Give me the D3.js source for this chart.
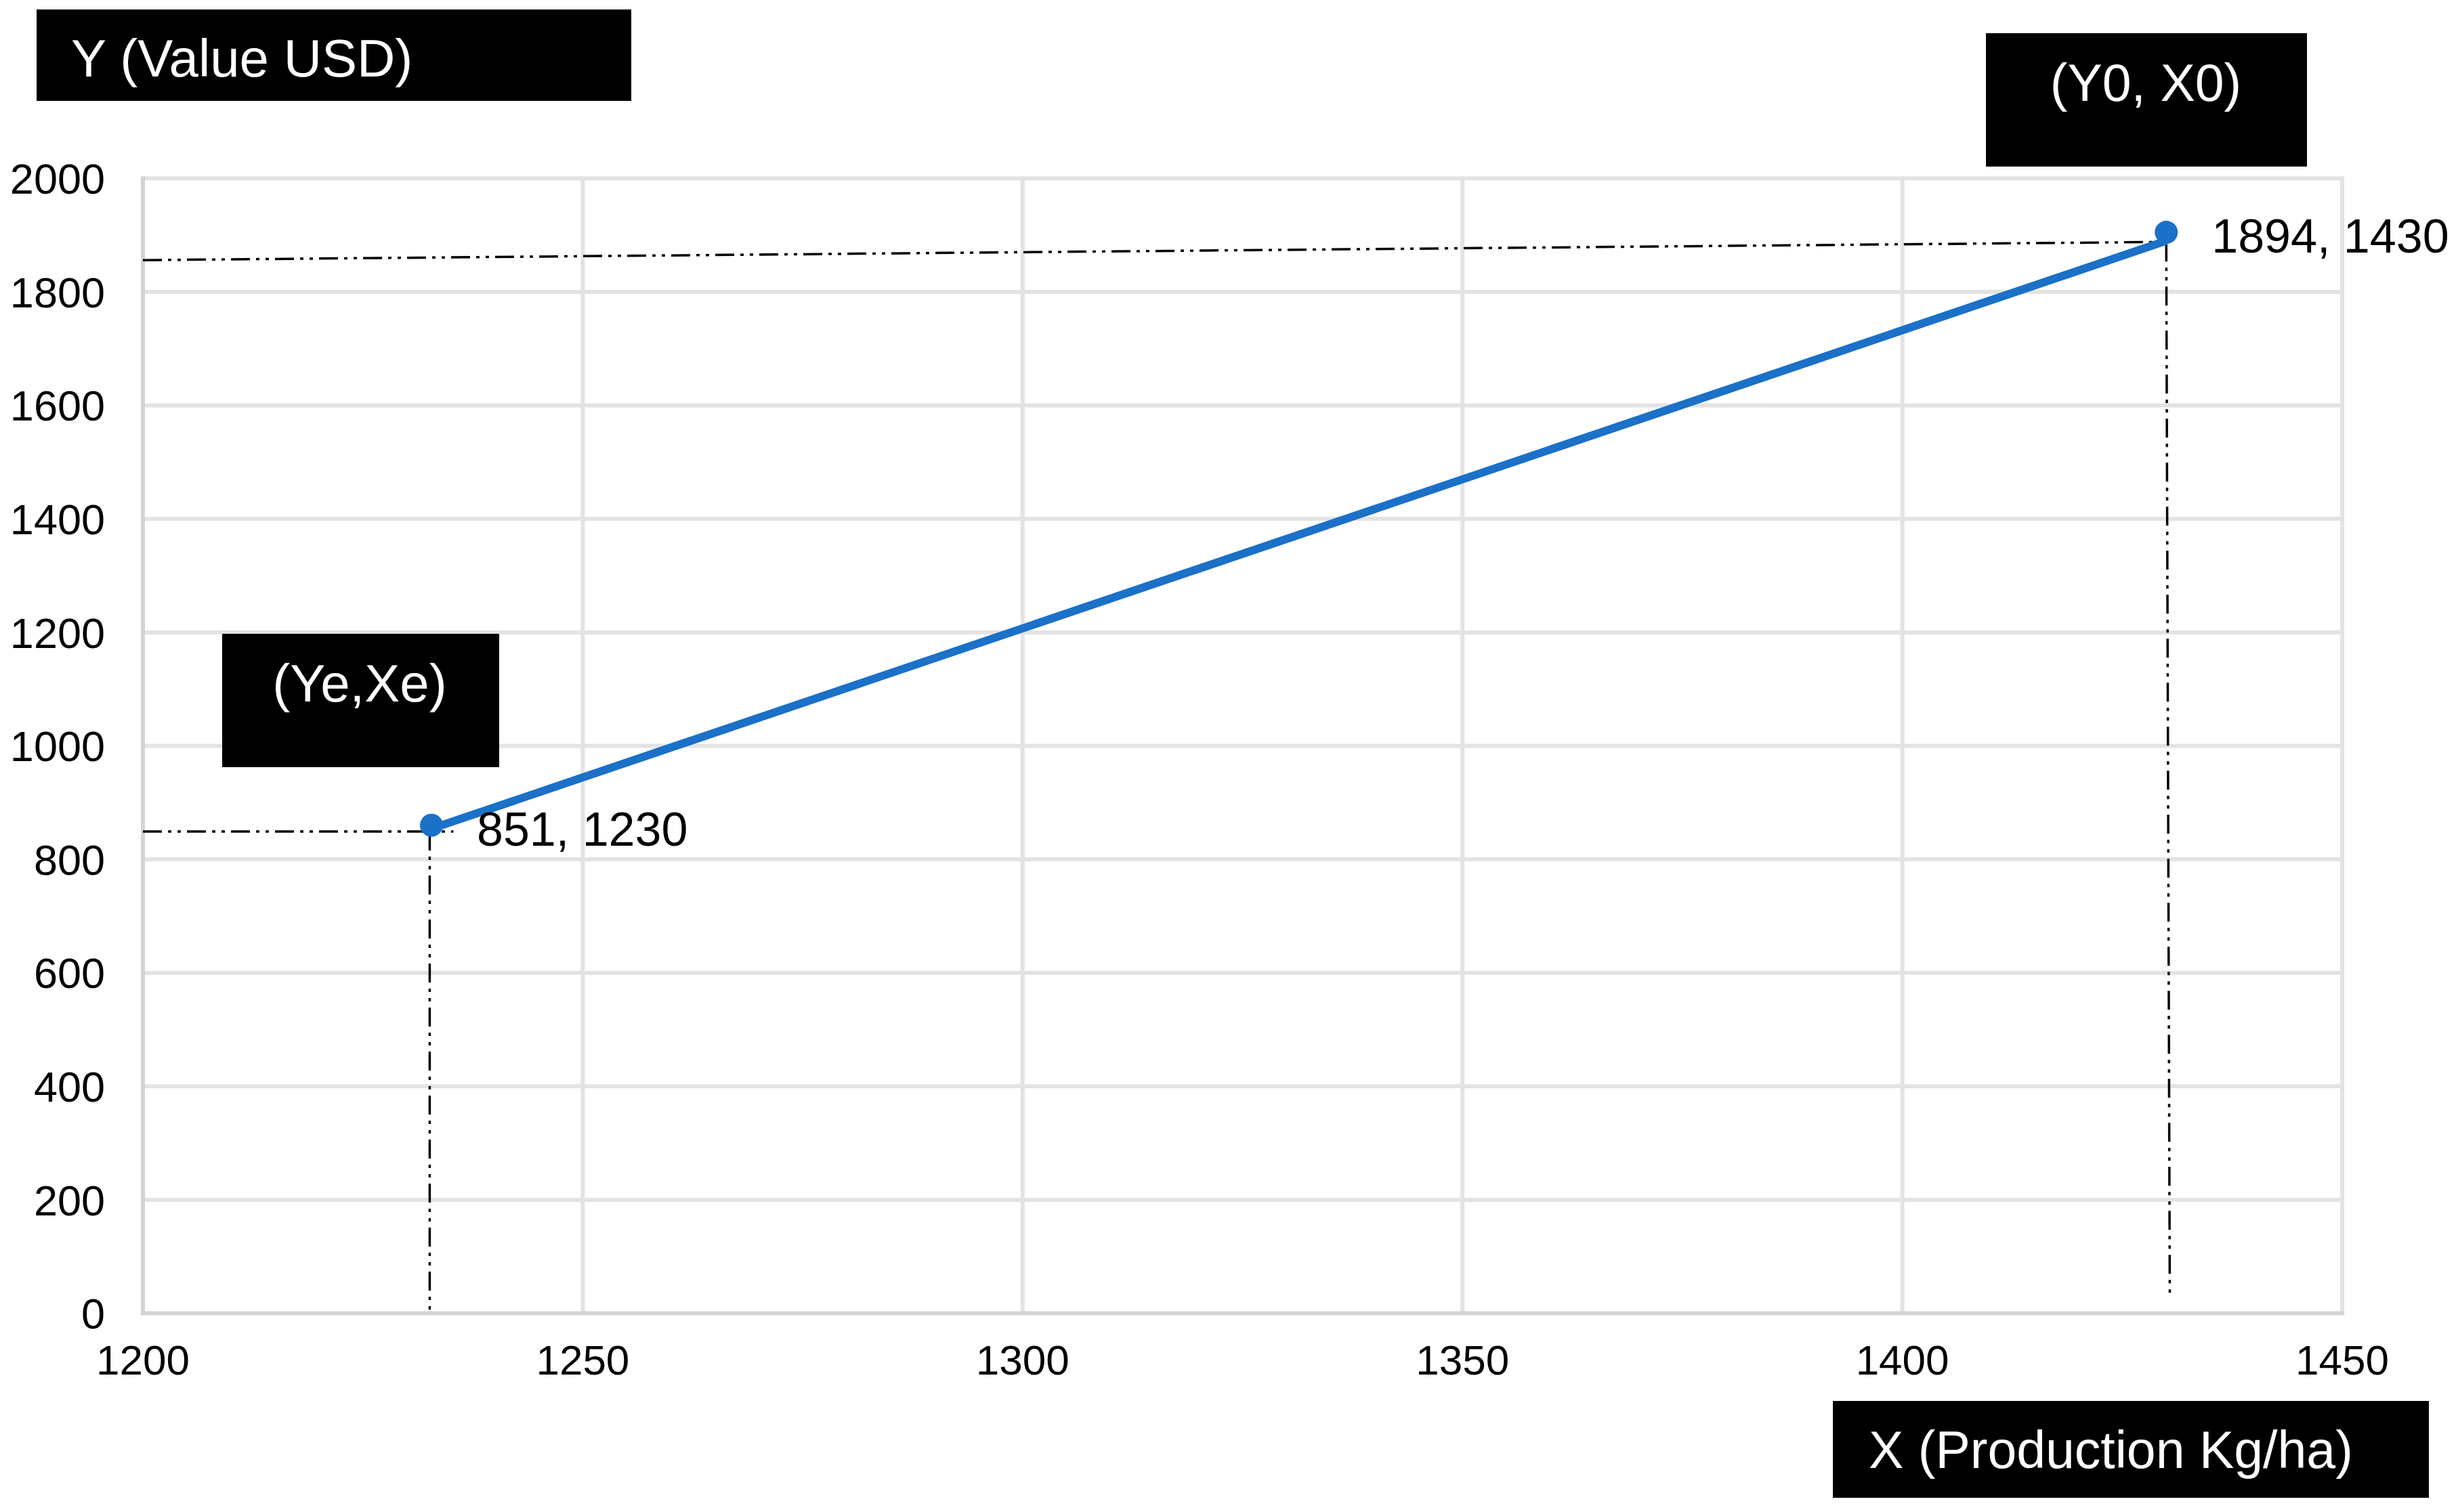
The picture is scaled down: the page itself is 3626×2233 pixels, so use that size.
<!DOCTYPE html>
<html>
<head>
<meta charset="utf-8">
<script src="https://cdn.jsdelivr.net/npm/d3@7"></script>
<style>
  body { margin: 0; background: #fff; }
  svg { display: block; font-family: "Liberation Sans", Arial, sans-serif; }
  .grid line { stroke: #e3e3e3; stroke-width: 6; }
  .frame line { stroke: #d4d4d4; stroke-width: 6; }
  .tick-label { fill: #000; }
  .guide { stroke: #000; stroke-width: 3.5; stroke-dasharray: 28 9 5 9 5 9; fill: none; }
  .box rect { fill: #000; }
  .box text { fill: #fff; }
</style>
</head>
<body>
<div class="chart-container"></div>
<script>
// values
var pointX = [1232.8, 1430]
var pointY = [860, 1905]
var lineY = [854, 1890]
var pointLabels = ["851, 1230", "1894, 1430"]

var xTicks = [1200, 1250, 1300, 1350, 1400, 1450]
var yTicks = [0, 200, 400, 600, 800, 1000, 1200, 1400, 1600, 1800, 2000]

// dash-dot guide segments (drawn by hand in the original, slightly tilted)
var guideX1 = [1200, 1430, 1200, 1232.6]
var guideY1 = [1856, 1887, 849, 849]
var guideX2 = [1429, 1430.4, 1235.3, 1232.6]
var guideY2 = [1888, 35, 849, 0]

var width = 3626, height = 2233
var margin = {top: 263.5, left: 211, right: 168, bottom: 293.5}

var x_scale = d3.scaleLinear()
    .domain([1200, 1450])
    .range([margin.left, width - margin.right])
var y_scale = d3.scaleLinear()
    .domain([0, 2000])
    .range([height - margin.bottom, margin.top])

var svg = d3.select('.chart-container')
    .append('svg')
    .attr('width', width)
    .attr('height', height)

// gridlines
var grid = svg.append('g').attr('class', 'grid')
grid.selectAll('.hg')
    .data(yTicks.slice(1))
    .enter()
    .append('line')
    .attr('x1', x_scale(1200))
    .attr('x2', x_scale(1450))
    .attr('y1', function(d){return y_scale(d)})
    .attr('y2', function(d){return y_scale(d)})
grid.selectAll('.vg')
    .data(xTicks.slice(1))
    .enter()
    .append('line')
    .attr('x1', function(d){return x_scale(d)})
    .attr('x2', function(d){return x_scale(d)})
    .attr('y1', y_scale(0))
    .attr('y2', y_scale(2000) - 3)

// left and bottom axis lines
var frame = svg.append('g').attr('class', 'frame')
frame.append('line')
    .attr('x1', x_scale(1200)).attr('x2', x_scale(1200))
    .attr('y1', y_scale(0) + 3).attr('y2', y_scale(2000) - 3)
frame.append('line')
    .attr('x1', x_scale(1200) - 3).attr('x2', x_scale(1450) + 3)
    .attr('y1', y_scale(0)).attr('y2', y_scale(0))

// tick labels
svg.append('g')
    .selectAll('text')
    .data(yTicks)
    .enter()
    .append('text')
    .attr('class', 'tick-label')
    .attr('font-size', '63px')
    .attr('x', x_scale(1200) - 56)
    .attr('y', function(d){return y_scale(d)})
    .attr('dy', '0.36em')
    .attr('text-anchor', 'end')
    .text(function(d){return d})

svg.append('g')
    .selectAll('text')
    .data(xTicks)
    .enter()
    .append('text')
    .attr('class', 'tick-label')
    .attr('font-size', '62px')
    .attr('x', function(d){return x_scale(d)})
    .attr('y', y_scale(0) + 90)
    .attr('text-anchor', 'middle')
    .text(function(d){return d})

// guides
svg.append('g')
    .selectAll('line')
    .data(d3.range(guideX1.length))
    .enter()
    .append('line')
    .attr('class', 'guide')
    .attr('x1', function(i){return x_scale(guideX1[i])})
    .attr('y1', function(i){return y_scale(guideY1[i])})
    .attr('x2', function(i){return x_scale(guideX2[i])})
    .attr('y2', function(i){return y_scale(guideY2[i])})

// the series
var pts = d3.range(pointX.length).map(function(i){return [pointX[i], pointY[i]]})
var linePts = d3.range(pointX.length).map(function(i){return [pointX[i], lineY[i]]})
svg.append('path')
    .datum(linePts)
    .attr('fill', 'none')
    .attr('stroke', '#1b70c8')
    .attr('stroke-width', 12)
    .attr('d', d3.line()
        .x(function(d){return x_scale(d[0])})
        .y(function(d){return y_scale(d[1])}))

svg.append('g')
    .selectAll('circle')
    .data(pts)
    .enter()
    .append('circle')
    .attr('cx', function(d){return x_scale(d[0])})
    .attr('cy', function(d){return y_scale(d[1])})
    .attr('r', 17)
    .attr('fill', '#1b70c8')

svg.append('g')
    .selectAll('text')
    .data(pts)
    .enter()
    .append('text')
    .attr('x', function(d){return x_scale(d[0]) + 67})
    .attr('y', function(d){return y_scale(d[1]) + 30})
    .attr('font-size', '70px')
    .text(function(d, i){return pointLabels[i]})

// black label boxes
var boxes = [
    {x: 54, y: 14, w: 878, h: 135, tx: 105, ty: 113, anchor: 'start', size: 78, text: 'Y (Value USD)'},
    {x: 2932, y: 49, w: 474, h: 197, tx: 3168, ty: 149, anchor: 'middle', size: 77, text: '(Y0, X0)'},
    {x: 328, y: 936, w: 409, h: 197, tx: 531, ty: 1036, anchor: 'middle', size: 78, text: '(Ye,Xe)'},
    {x: 2706, y: 2069, w: 880, h: 143, tx: 2759, ty: 2168, anchor: 'start', size: 77, text: 'X (Production Kg/ha)'}
]
var box = svg.append('g')
    .selectAll('.box')
    .data(boxes)
    .enter()
    .append('g')
    .attr('class', 'box')
box.append('rect')
    .attr('x', function(d){return d.x})
    .attr('y', function(d){return d.y})
    .attr('width', function(d){return d.w})
    .attr('height', function(d){return d.h})
box.append('text')
    .attr('x', function(d){return d.tx})
    .attr('y', function(d){return d.ty})
    .attr('text-anchor', function(d){return d.anchor})
    .attr('font-size', function(d){return d.size + 'px'})
    .text(function(d){return d.text})
</script>
</body>
</html>
